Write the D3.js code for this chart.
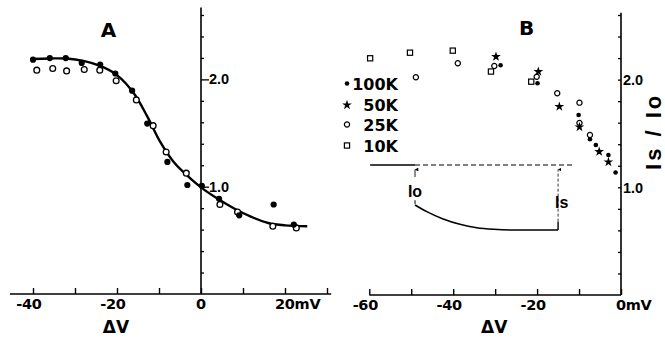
<!DOCTYPE html>
<html><head><meta charset="utf-8">
<script src="https://cdn.jsdelivr.net/npm/d3@7"></script>
<style>body{margin:0;background:#fff}svg{display:block}text{font-family:"DejaVu Sans",sans-serif;font-weight:bold;fill:#000}</style>
</head><body><svg id="c" width="665" height="339"></svg>
<script>
// ---------- Panel A data ----------
const aCurveX = [-40.3,-36,-32,-28,-24,-20,-16,-12.8,-9.6,-6.4,-3.2,0,4,8,12,16,20,25.3];
const aCurveY = [2.19,2.195,2.194,2.172,2.125,2.04,1.871,1.655,1.41,1.225,1.101,0.994,0.887,0.794,0.718,0.662,0.64,0.631];
const aFilledX = [-40,-36,-32.2,-28.4,-24,-20.4,-16.4,-12.8,-8,-3.25,0.2,4.3,9.1,17.3,22.1];
const aFilledY = [2.184,2.199,2.199,2.153,2.138,2.055,1.895,1.588,1.231,1.016,1.009,0.887,0.733,0.834,0.647];
const aOpenX = [-39.1,-35.3,-32,-27.8,-24.1,-20.2,-15.4,-11.4,-8.3,-3.5,4.5,8.7,17.1,22.7];
const aOpenY = [2.086,2.101,2.079,2.092,2.086,1.987,1.809,1.569,1.323,1.126,0.834,0.764,0.631,0.616];
const aXTicks = [-40,-30,-20,-10,0,10,20,30];
const aXLabels = [[-40,"-40"],[-20,"-20"],[0,"0"],[20,"20mV"]];
const yTicks = [0.2,0.4,0.6,0.8,1.0,1.2,1.4,1.6,1.8,2.0,2.2,2.4,2.6];
const yLabels = [[1.0,"1.0"],[2.0,"2.0"]];

// ---------- Panel B data ----------
const legendNames = ["100K","50K","25K","10K"];
const b100X = [-28.7,-19.9,-10.1,-7.4,-6.0,-3.0,-1.3];
const b100Y = [2.133,1.966,1.672,1.446,1.393,1.30,1.138];
const b50X = [-29.8,-19.7,-14.7,-9.9,-5.2,-3.0];
const b50Y = [2.213,2.074,1.749,1.56,1.331,1.235];
const b25X = [-48.9,-38.9,-30.2,-20.1,-15.2,-9.9,-9.9,-7.4];
const b25Y = [2.022,2.152,2.126,2.027,1.873,1.786,1.597,1.486];
const b10X = [-59.8,-50.3,-40.1,-31.0,-21.4];
const b10Y = [2.198,2.25,2.269,2.075,1.981];
const bXTicks = [-60,-50,-40,-30,-20,-10,0];
const bXLabels = [[-60,"-60"],[-40,"-40"],[-20,"-20"],[0,"0mV"]];
// inset schematic (in panel B units)
const insetLevel = 1.207;
const insetSolidX = [-59.8,-49.1];
const insetDashX = [-49.1,-11.4];
const ioX = -49.1, isX = -15;
const insetCurveX = [-49.1,-46.3,-42.4,-38.4,-34.4,-30.4,-26.5,-15];
const insetCurveY = [0.836,0.774,0.706,0.657,0.625,0.61,0.604,0.604];

const svg = d3.select("#c");
const xA = d3.scaleLinear([-40,20],[33,285]);
const yA = d3.scaleLinear([0,2.6],[294,15]);
const xB = d3.scaleLinear([-60,0],[369.3,621]);
const yB = d3.scaleLinear([0,2.6],[295,15]);

const zip = (xs,ys)=>xs.map((x,i)=>[x,ys[i]]);

// ================= Panel A =================
const gA = svg.append("g");
gA.append("line").attr("x1",xA(-45.5)).attr("x2",xA(31)).attr("y1",yA(0)).attr("y2",yA(0))
  .attr("stroke","#000").attr("stroke-width",1.6);
gA.append("g").attr("transform",`translate(0,${yA(0)})`)
  .call(d3.axisTop(xA).tickValues(aXTicks).tickSize(6).tickSizeOuter(0).tickFormat(""))
  .call(g=>{g.select(".domain").remove(); g.selectAll("line").attr("stroke-width",1.4);});
gA.append("line").attr("x1",xA(0)).attr("x2",xA(0)).attr("y1",yA(0)).attr("y2",yA(2.67))
  .attr("stroke","#000").attr("stroke-width",1.6);
gA.append("g").attr("transform",`translate(${xA(0)},0)`)
  .call(d3.axisRight(yA).tickValues(yTicks).tickSize(3).tickSizeOuter(0).tickFormat(""))
  .call(g=>{g.select(".domain").remove(); g.selectAll("line").attr("stroke-width",1.3)
     .attr("x2",d=>(d===1||d===2)?8:3);});
gA.selectAll(".ylA").data(yLabels).join("text")
  .attr("x",xA(0)+8).attr("y",d=>yA(d[0])+5)
  .style("font-family","Liberation Sans").attr("font-size",14.5).text(d=>d[1]);
gA.selectAll(".xlA").data(aXLabels).join("text")
  .attr("x",d=>d[0]<0?xA(d[0])-4:(d[0]===0?xA(d[0]):xA(d[0])-10))
  .attr("text-anchor",d=>d[0]>0?"start":"middle")
  .attr("y",309).attr("font-size",14.5).attr("letter-spacing",-0.3).text(d=>d[1]);
gA.append("text").attr("x",xA(-20)-1).attr("y",333).attr("text-anchor","middle").attr("font-size",17).text("ΔV");
gA.append("text").attr("x",xA(-22)).attr("y",37).attr("text-anchor","middle").attr("font-size",20).text("A");
gA.append("path").datum(zip(aCurveX,aCurveY))
  .attr("d",d3.line().x(d=>xA(d[0])).y(d=>yA(d[1])).curve(d3.curveCatmullRom))
  .attr("fill","none").attr("stroke","#000").attr("stroke-width",2.4);
gA.selectAll(".op").data(zip(aOpenX,aOpenY)).join("circle")
  .attr("cx",d=>xA(d[0])).attr("cy",d=>yA(d[1])).attr("r",2.9)
  .attr("fill","#fff").attr("stroke","#000").attr("stroke-width",1.3);
gA.selectAll(".fi").data(zip(aFilledX,aFilledY)).join("circle")
  .attr("cx",d=>xA(d[0])).attr("cy",d=>yA(d[1])).attr("r",3.1).attr("fill","#000");

// ================= Panel B =================
const gB = svg.append("g");
gB.append("line").attr("x1",xB(-60)).attr("x2",xB(0)).attr("y1",yB(0)).attr("y2",yB(0))
  .attr("stroke","#000").attr("stroke-width",1.6);
gB.append("g").attr("transform",`translate(0,${yB(0)})`)
  .call(d3.axisTop(xB).tickValues(bXTicks).tickSize(6).tickSizeOuter(0).tickFormat(""))
  .call(g=>{g.select(".domain").remove(); g.selectAll("line").attr("stroke-width",1.4);});
gB.append("line").attr("x1",xB(0)).attr("x2",xB(0)).attr("y1",yB(0)).attr("y2",yB(2.62))
  .attr("stroke","#000").attr("stroke-width",1.6);
gB.append("g").attr("transform",`translate(${xB(0)},0)`)
  .call(d3.axisLeft(yB).tickValues(yTicks).tickSize(3).tickSizeOuter(0).tickFormat(""))
  .call(g=>{g.select(".domain").remove(); g.selectAll("line").attr("stroke-width",1.3);});
gB.selectAll(".ylB").data(yLabels).join("text")
  .attr("x",xB(0)+2).attr("y",d=>yB(d[0])+5.5)
  .style("font-family","Liberation Sans").attr("font-size",14.5).text(d=>d[1]);
gB.selectAll(".xlB").data(bXLabels).join("text")
  .attr("x",d=>d[0]<0?xB(d[0])-4:xB(d[0])-5)
  .attr("text-anchor",d=>d[0]<0?"middle":"start")
  .attr("y",310).attr("font-size",14.5).attr("letter-spacing",-0.3).text(d=>d[1]);
gB.append("text").attr("x",xB(-30)-1).attr("y",333).attr("text-anchor","middle").attr("font-size",17).text("ΔV");
gB.append("text").attr("x",xB(-22.5)).attr("y",35).attr("text-anchor","middle").attr("font-size",20).text("B");
gB.append("text").attr("transform",`translate(661,${yB(1.52)}) rotate(-90)`)
  .attr("text-anchor","middle").style("font-family","Liberation Sans").attr("font-size",22)
  .attr("letter-spacing",3).text("Is / Io");

// inset schematic
const defs = svg.append("defs");
defs.append("marker").attr("id","ah").attr("viewBox","0 0 6 6").attr("refX",3).attr("refY",0.5)
  .attr("markerWidth",4).attr("markerHeight",5).attr("orient","auto-start-reverse")
  .append("path").attr("d","M0,6 L3,0 L6,6 Z").attr("fill","#000");
gB.append("line").attr("x1",xB(insetSolidX[0])).attr("x2",xB(insetSolidX[1]))
  .attr("y1",yB(insetLevel)).attr("y2",yB(insetLevel)).attr("stroke","#000").attr("stroke-width",1.3);
gB.append("line").attr("x1",xB(insetDashX[0])).attr("x2",xB(insetDashX[1]))
  .attr("y1",yB(insetLevel)).attr("y2",yB(insetLevel)).attr("stroke","#000").attr("stroke-width",1.2)
  .attr("stroke-dasharray","5,3");
gB.append("line").attr("x1",xB(ioX)).attr("x2",xB(ioX)).attr("y1",yB(1.096)).attr("y2",yB(1.165))
  .attr("stroke","#000").attr("stroke-width",0.9).attr("marker-end","url(#ah)");
gB.append("line").attr("x1",xB(ioX)).attr("x2",xB(ioX)).attr("y1",yB(0.88)).attr("y2",yB(0.845))
  .attr("stroke","#000").attr("stroke-width",1);
gB.append("text").attr("x",xB(ioX)).attr("y",197).attr("text-anchor","middle")
  .style("font-family","Liberation Sans").attr("font-size",16).text("Io");
gB.append("path").datum(zip(insetCurveX,insetCurveY))
  .attr("d",d3.line().x(d=>xB(d[0])).y(d=>yB(d[1])).curve(d3.curveMonotoneX))
  .attr("fill","none").attr("stroke","#000").attr("stroke-width",1.6);
gB.append("line").attr("x1",xB(isX)).attr("x2",xB(isX)).attr("y1",yB(0.604)).attr("y2",yB(0.681))
  .attr("stroke","#000").attr("stroke-width",1.4);
gB.append("line").attr("x1",xB(isX)).attr("x2",xB(isX)).attr("y1",yB(0.681)).attr("y2",yB(1.165))
  .attr("stroke","#000").attr("stroke-width",0.8).attr("stroke-dasharray","3,2").attr("marker-end","url(#ah)");
gB.append("text").attr("x",xB(isX)-3).attr("y",208).attr("text-anchor","start")
  .style("font-family","Liberation Sans").attr("font-size",16).text("Is");

const star = d3.symbol(d3.symbolStar, 30)();
function drawSeries(xs, ys, kind, x, y){
  const sel = gB.append("g").selectAll("g").data(zip(xs,ys)).join("g")
    .attr("transform",d=>`translate(${x(d[0])},${y(d[1])})`);
  addMarker(sel, kind);
}
function addMarker(sel, kind){
  if(kind==="dot") sel.append("circle").attr("r",2.3).attr("fill","#000");
  if(kind==="star") sel.append("path").attr("d",star).attr("fill","#000");
  if(kind==="circle") sel.append("circle").attr("r",2.6).attr("fill","#fff").attr("stroke","#000").attr("stroke-width",1.2);
  if(kind==="square") sel.append("rect").attr("x",-2.6).attr("y",-2.6).attr("width",5.2).attr("height",5.2)
    .attr("fill","#fff").attr("stroke","#000").attr("stroke-width",1.2);
}
drawSeries(b10X,b10Y,"square",xB,yB);
drawSeries(b25X,b25Y,"circle",xB,yB);
drawSeries(b50X,b50Y,"star",xB,yB);
drawSeries(b100X,b100Y,"dot",xB,yB);

const kinds = ["dot","star","circle","square"];
const legY = [83.5,105,124.5,145.5];
const leg = gB.append("g").selectAll("g").data(legendNames).join("g")
  .attr("transform",(d,i)=>`translate(347,${legY[i]})`);
leg.each(function(d,i){ addMarker(d3.select(this), kinds[i]); });
leg.append("text").attr("x",51).attr("y",6).attr("text-anchor","end").attr("font-size",16).text(d=>d);
</script></body></html>
